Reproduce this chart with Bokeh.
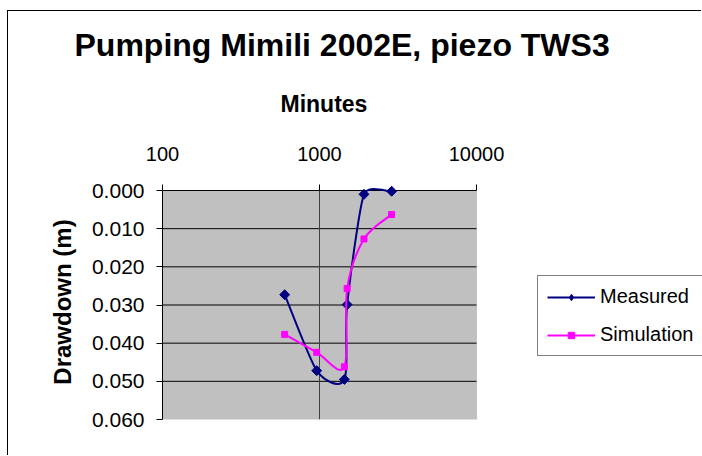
import numpy as np
from bokeh.plotting import figure
from bokeh.models import (Range1d, FixedTicker, NumeralTickFormatter, Legend, LegendItem,
                          ColumnDataSource, BoxAnnotation, Title)
from bokeh.embed import file_html
from bokeh.resources import INLINE

# ---- data ----
minutes = [600, 960, 1440, 1500, 1920, 2880]
measured = [0.0273, 0.0472, 0.0495, 0.0299, 0.0010, 0.0002]
simulation = [0.0377, 0.0424, 0.0462, 0.0257, 0.0127, 0.0063]
x_ticks = [100, 1000, 10000]
y_ticks = [0.0, 0.01, 0.02, 0.03, 0.04, 0.05, 0.06]

FONT = "Liberation Sans"
# geometry of the grey plot area (px)
PLOT_W, PLOT_H = 314, 229
EXTRA_RIGHT = 226      # frame continues to the right (legend area)
EXTRA_TOP = 6          # frame continues above the 0.000 line (room for markers)
X0, X1 = 100, 10000
Y0, Y1 = 0.0, 0.06

decades = np.log10(X1) - np.log10(X0)
x_end = 10 ** (np.log10(X0) + decades * (PLOT_W + EXTRA_RIGHT) / PLOT_W)
y_top = Y0 - EXTRA_TOP * (Y1 - Y0) / PLOT_H


def smooth_segments(xs, ys, cap=0.4):
    """Excel-like smoothed line: bezier segments with capped tangents (screen space)."""
    kx = PLOT_W / decades
    ky = PLOT_H / (Y1 - Y0)
    P = np.column_stack([np.log10(np.asarray(xs, float)) * kx, np.asarray(ys, float) * ky])
    n = len(P)
    offs = []
    for k in range(n):
        if k == 0:
            o = (P[1] - P[0]) / 6.0
        elif k == n - 1:
            o = (P[k] - P[k - 1]) / 6.0
        else:
            o = (P[k + 1] - P[k - 1]) / 6.0
            lim = cap * min(np.hypot(*(P[k] - P[k - 1])), np.hypot(*(P[k + 1] - P[k])))
            L = np.hypot(*o)
            if L > lim and L > 0:
                o = o * lim / L
        offs.append(o)
    d = dict(x0=[], y0=[], x1=[], y1=[], cx0=[], cy0=[], cx1=[], cy1=[])

    def back(pt):
        return 10 ** (pt[0] / kx), pt[1] / ky

    for i in range(n - 1):
        a, b = back(P[i]), back(P[i + 1])
        c0, c1 = back(P[i] + offs[i]), back(P[i + 1] - offs[i + 1])
        d["x0"].append(a[0]); d["y0"].append(a[1])
        d["x1"].append(b[0]); d["y1"].append(b[1])
        d["cx0"].append(c0[0]); d["cy0"].append(c0[1])
        d["cx1"].append(c1[0]); d["cy1"].append(c1[1])
    return ColumnDataSource(d)


p = figure(width=694, height=445, x_axis_type="log", x_axis_location="above",
           x_range=Range1d(X0, x_end), y_range=Range1d(Y1, y_top),
           output_backend="svg", toolbar_location=None,
           min_border_left=154, min_border_right=0, min_border_top=173, min_border_bottom=37)
p.styles = {"border-left": "1px solid black", "border-top": "1px solid black",
            "margin-left": "7px", "margin-top": "10px"}

p.background_fill_color = "white"
p.border_fill_color = "white"
p.outline_line_color = None

# grey plot area
p.add_layout(BoxAnnotation(left=X0, right=X1, top=Y0, bottom=Y1, fill_color="#C0C0C0",
                           fill_alpha=1, line_color="#808080", line_width=1, level="underlay"))

# x axis (top)
xa = p.xaxis[0]
xa.bounds = (X0, X1)
xa.ticker = FixedTicker(ticks=x_ticks)
xa.formatter = NumeralTickFormatter(format="0")
xa.minor_tick_line_color = None
xa.major_tick_in = EXTRA_TOP
xa.major_tick_out = 0
xa.major_tick_line_color = "black"
xa.axis_line_color = None
xa.major_label_text_font = FONT
xa.major_label_text_font_size = "20px"
xa.major_label_text_color = "black"
xa.major_label_standoff = 24

# axis title "Minutes" as a title row just above the tick labels
p.add_layout(Title(text="Minutes", text_font=FONT, text_font_style="bold",
                   text_font_size="23px", text_color="black", align="left",
                   offset=118, standoff=53), "above")

# main title
p.title.text = "Pumping Mimili 2002E, piezo TWS3"
p.title.text_font = FONT
p.title.text_font_style = "bold"
p.title.text_font_size = "32px"
p.title.text_color = "black"
p.title.align = "left"
p.title.offset = -88
p.title.standoff = 0

# y axis (left)
ya = p.yaxis[0]
ya.bounds = (Y0, Y1)
ya.ticker = FixedTicker(ticks=y_ticks)
ya.formatter = NumeralTickFormatter(format="0.000")
ya.minor_tick_line_color = None
ya.major_tick_in = 0
ya.major_tick_out = 6
ya.major_tick_line_color = "black"
ya.major_label_text_font = FONT
ya.major_label_text_font_size = "21px"
ya.major_label_text_color = "black"
ya.major_label_standoff = 12
ya.axis_label = "Drawdown (m)"
ya.axis_label_text_font = FONT
ya.axis_label_text_font_style = "bold"
ya.axis_label_text_font_size = "24px"
ya.axis_label_text_color = "black"
ya.axis_label_standoff = 13
ya.axis_line_color = "black"

# grid lines limited to the grey area
p.xgrid.visible = False
p.ygrid.visible = False
p.segment(x0=[X0] * (len(y_ticks) - 1), x1=[X1] * (len(y_ticks) - 1),
          y0=y_ticks[:-1], y1=y_ticks[:-1], line_color="black", line_width=1)
p.segment(x0=[1000], x1=[1000], y0=[Y0], y1=[Y1], line_color="#404040", line_width=1)

# series
src_m = smooth_segments(minutes, measured)
src_s = smooth_segments(minutes, simulation)

r_ml = p.bezier(x0="x0", y0="y0", x1="x1", y1="y1", cx0="cx0", cy0="cy0", cx1="cx1", cy1="cy1",
                source=src_m, line_color="#000080", line_width=2)
r_mp = p.scatter(minutes, measured, marker="square", angle=np.pi / 4, size=7,
                 fill_color="#000080", line_color="#000080")
# diamond drawn inside the rotated squares (used for the legend symbol)
r_mleg = p.scatter(minutes, measured, marker="diamond", size=9,
                   fill_color="#000080", line_color="#000080")
r_sl = p.bezier(x0="x0", y0="y0", x1="x1", y1="y1", cx0="cx0", cy0="cy0", cx1="cx1", cy1="cy1",
                source=src_s, line_color="#FF00FF", line_width=2)
r_sp = p.scatter(minutes, simulation, marker="square", size=6,
                 fill_color="#FF00FF", line_color="#FF00FF")

legend = Legend(items=[LegendItem(label="Measured", renderers=[r_ml, r_mleg]),
                       LegendItem(label="Simulation", renderers=[r_sl, r_sp])],
                location=(PLOT_W + 61, 63))
legend.label_text_font = FONT
legend.label_text_font_size = "20px"
legend.label_text_color = "black"
legend.glyph_width = 48
legend.glyph_height = 16
legend.label_height = 22
legend.spacing = 15
legend.padding = 9
legend.margin = 0
legend.label_standoff = 5
legend.label_width = 130
legend.border_line_color = "black"
legend.border_line_width = 1
legend.background_fill_color = "white"
legend.background_fill_alpha = 1
p.add_layout(legend, "center")

open("out.html", "w").write(file_html(p, INLINE))
